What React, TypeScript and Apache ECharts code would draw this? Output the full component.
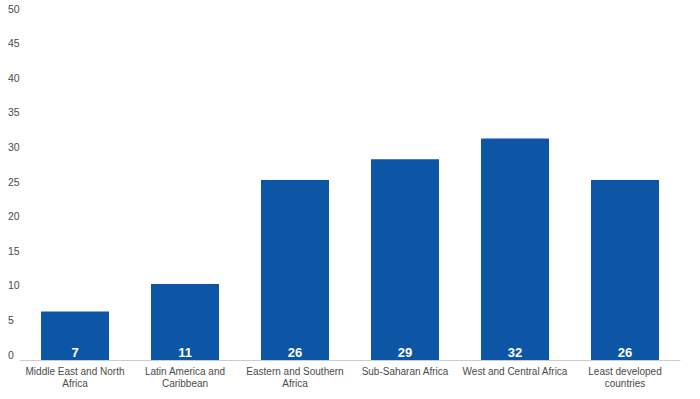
import React, { useEffect, useRef } from "react";
import * as echarts from "echarts";

const categories = [
  "Middle East and North\nAfrica",
  "Latin America and\nCaribbean",
  "Eastern and Southern\nAfrica",
  "Sub-Saharan Africa",
  "West and Central Africa",
  "Least developed\ncountries",
];
const values = [7, 11, 26, 29, 32, 26];
const yMin = 0;
const yMax = 50;
const yInterval = 5;

export default function App() {
  const ref = useRef<HTMLDivElement>(null);
  useEffect(() => {
    if (!ref.current) return;
    const chart = echarts.init(ref.current, null, { renderer: "svg" });
    chart.setOption({
      animation: false,
      textStyle: { fontFamily: "Liberation Sans, Arial, sans-serif" },
      grid: { left: 20, right: 20, top: 14, bottom: 39, containLabel: false },
      xAxis: {
        type: "category",
        data: categories,
        axisLine: { show: true, lineStyle: { color: "#cccccc", width: 1 } },
        axisTick: { show: false },
        axisLabel: {
          color: "#4a4a4a",
          fontSize: 10,
          lineHeight: 12,
          margin: 5,
          interval: 0,
        },
      },
      yAxis: {
        type: "value",
        min: yMin,
        max: yMax,
        interval: yInterval,
        splitLine: { show: false },
        axisLine: { show: false },
        axisTick: { show: false },
        axisLabel: {
          color: "#4a4a4a",
          fontSize: 10.5,
          align: "left",
          verticalAlign: "bottom",
          margin: 12,
        },
      },
      series: [
        {
          type: "bar",
          data: values,
          barWidth: 68,
          itemStyle: { color: "#0c56a5" },
          label: {
            show: true,
            position: "insideBottom",
            distance: 1,
            color: "#ffffff",
            fontWeight: "bold",
            fontSize: 13,
          },
        },
      ],
    });
    return () => chart.dispose();
  }, []);
  return <div ref={ref} style={{ width: 700, height: 399, position: "absolute", left: 0, top: 0 }} />;
}
